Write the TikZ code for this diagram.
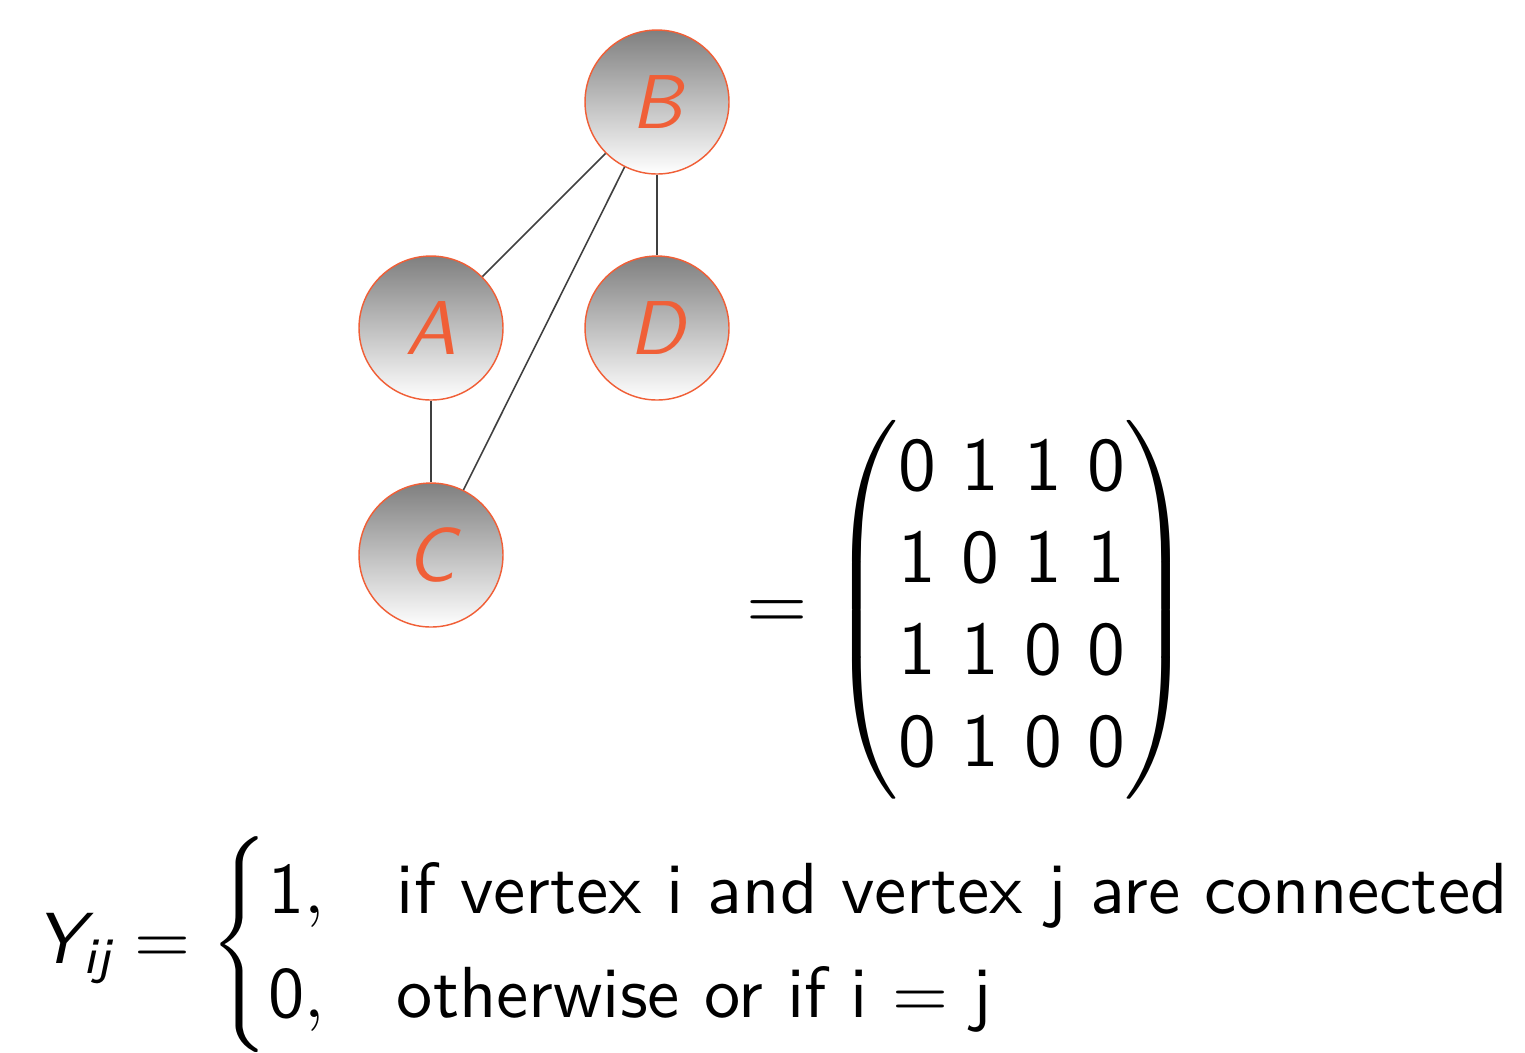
\documentclass[tikz,border=0pt]{standalone}
\usepackage{amsmath}
\renewcommand{\familydefault}{\sfdefault}
% sans letters and digits inside math
\newcommand{\sfv}[1]{\text{\itshape #1}}
\newcommand{\sfn}[1]{\text{#1}}
\definecolor{vertexorange}{RGB}{240,95,55}
\tikzset{
  vertex/.style={circle, draw=vertexorange, line width=0.2pt, top color=gray, bottom color=white,
    minimum size=20pt, inner sep=0pt, text=vertexorange, font=\fontsize{10.6}{12}\selectfont\itshape},
  link/.style={draw=black!75, line width=0.22pt}
}
\begin{document}
\begin{tikzpicture}[x=0.1389pt, y=-0.1389pt]
\useasboundingbox (0,0) rectangle (1525,1052);
  \node[vertex] (B) at (657,102) {B};
  \node[vertex] (A) at (431,328) {A};
  \node[vertex] (D) at (657,328) {D};
  \node[vertex] (C) at (431,555) {C};
  \draw[link] (B) -- (A);
  \draw[link] (B) -- (C);
  \draw[link] (B) -- (D);
  \draw[link] (A) -- (C);
  \node[font=\fontsize{10.5}{12.8}\selectfont] (adj) at (970,610) {$= \begin{pmatrix} \sfn{0 1 1 0}\\ \sfn{1 0 1 1}\\ \sfn{1 1 0 0}\\ \sfn{0 1 0 0} \end{pmatrix}$};
  \node[anchor=west, inner sep=0pt, font=\fontsize{10.05}{12}\selectfont] (def) at (34,945) {$\sfv{Y}_{\sfv{ij}} = \begin{cases} \sfn{1}, & \text{if vertex i and vertex j are connected}\\ \sfn{0}, & \text{otherwise or if i $=$ j} \end{cases}$};
\end{tikzpicture}
\end{document}
